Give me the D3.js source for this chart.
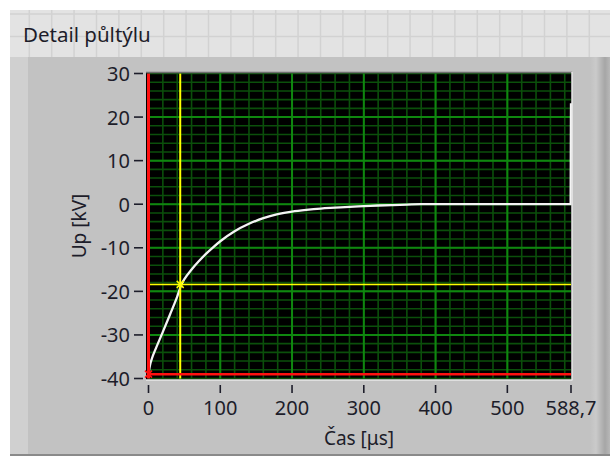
<!DOCTYPE html>
<html>
<head>
<meta charset="utf-8">
<script src="https://cdn.jsdelivr.net/npm/d3@7"></script>
<style>
	body { margin: 0; background: #fff; }
	text { font-family: "Noto Sans", "Open Sans", sans-serif; fill: #1d1d2a; }
</style>
</head>
<body>
<div id="chart"></div>
<script>
// curve: time [us] and voltage [kV]
let timeUs		= [0, 2, 5, 10, 20, 30, 40, 46, 50, 60, 70, 80, 90, 100, 120, 140, 160, 180, 200, 220, 240, 260, 280, 300, 320, 340, 360, 380, 588.2, 588.7];
let voltageKv	= [-39, -37, -35.3, -33.2, -29.3, -25.3, -21.2, -18.4, -17.2, -15, -13.1, -11.4, -9.9, -8.5, -6.2, -4.5, -3.2, -2.3, -1.7, -1.3, -1.0, -0.8, -0.6, -0.45, -0.3, -0.2, -0.1, 0, 0, 23.2];

let xTicks		= [0, 100, 200, 300, 400, 500, 588.7];
let yTicks		= [-40, -30, -20, -10, 0, 10, 20, 30];
let xMinor		= d3.range(0, 588.7, 20);
let yMinor		= d3.range(-40, 30.1, 2);

let cursorRed	= { t: 0, v: -39 };
let cursorYel	= { t: 44.2, v: -18.4 };

let title		= "Detail půltýlu";
let xTitle		= "Čas [μs]";
let yTitle		= "Up [kV]";

let canvasWidth		= 610;
let canvasHeight	= 461;

let x = d3.scaleLinear().domain([0, 588.7]).range([148.5, 571]);
let y = d3.scaleLinear().domain([-40, 30]).range([378.5, 73.5]);

let svg = d3.select("#chart").append("svg")
	.attr("width", canvasWidth)
	.attr("height", canvasHeight);

// page background with the light panel grid
svg.append('rect').attr('x', 10).attr('y', 10).attr('width', 600).attr('height', 47).attr('fill', '#e3e3e3');
let bgGrid = svg.append('g').attr('stroke', '#d2d2d2').attr('stroke-width', 1.5);
bgGrid.selectAll('line.v').data(d3.range(29.3, 610, 22.4)).enter().append('line')
	.attr('x1', (o) => o).attr('x2', (o) => o).attr('y1', 10).attr('y2', 57);
bgGrid.selectAll('line.h').data([14, 36.5]).enter().append('line')
	.attr('x1', 10).attr('x2', 610).attr('y1', (o) => o).attr('y2', (o) => o);

// graph panel
let defs = svg.append('defs');
let grad = defs.append('linearGradient').attr('id', 'edge').attr('x1', 0).attr('x2', 1).attr('y1', 0).attr('y2', 0);
grad.append('stop').attr('offset', '0%').attr('stop-color', '#c2c2c2');
grad.append('stop').attr('offset', '30%').attr('stop-color', '#cacaca');
grad.append('stop').attr('offset', '75%').attr('stop-color', '#a6a6a6');
grad.append('stop').attr('offset', '100%').attr('stop-color', '#b8b8b8');

svg.append('rect').attr('x', 10).attr('y', 57).attr('width', 600).attr('height', 398).attr('fill', '#c2c2c2');
svg.append('rect').attr('x', 10).attr('y', 57).attr('width', 18).attr('height', 398).attr('fill', '#d0d0d0');
svg.append('rect').attr('x', 590).attr('y', 57).attr('width', 20).attr('height', 398).attr('fill', 'url(#edge)');
svg.append('line').attr('x1', 10).attr('x2', 610).attr('y1', 455).attr('y2', 455).attr('stroke', '#8a8a8a').attr('stroke-width', 2);

svg.append('text')
	.attr('x', 23).attr('y', 42)
	.style('font-size', '20.5px')
	.text(title);

// plot area
let x0 = x.range()[0], x1 = x.range()[1], y0 = y.range()[1], y1 = y.range()[0];
svg.append('rect')
	.attr('x', x0 - 2.5).attr('y', y0 - 1.5)
	.attr('width', x1 - x0 + 3.5).attr('height', y1 - y0 + 3)
	.attr('fill', '#000');

let plot = svg.append('g');

plot.selectAll('line.xminor').data(xMinor).enter().append('line')
	.attr('x1', (o) => x(o)).attr('x2', (o) => x(o)).attr('y1', y0).attr('y2', y1)
	.attr('stroke', '#0b4f0b').attr('stroke-width', 1.6);
plot.selectAll('line.yminor').data(yMinor).enter().append('line')
	.attr('x1', x0).attr('x2', x1).attr('y1', (o) => y(o)).attr('y2', (o) => y(o))
	.attr('stroke', '#0b4f0b').attr('stroke-width', 1.6);
plot.selectAll('line.xmajor').data(xTicks.slice(1, -1)).enter().append('line')
	.attr('x1', (o) => x(o)).attr('x2', (o) => x(o)).attr('y1', y0).attr('y2', y1)
	.attr('stroke', '#0f870f').attr('stroke-width', 2);
plot.selectAll('line.ymajor').data(yTicks.slice(1, -1)).enter().append('line')
	.attr('x1', x0).attr('x2', x1).attr('y1', (o) => y(o)).attr('y2', (o) => y(o))
	.attr('stroke', '#0f870f').attr('stroke-width', 2);

// plot frame: dark top/left, light bottom/right
svg.append('line').attr('x1', x0 - 2.5).attr('x2', x1 + 1).attr('y1', y0 - 1).attr('y2', y0 - 1).attr('stroke', '#6e6e6e').attr('stroke-width', 1.5);
svg.append('line').attr('x1', x1 + 1).attr('x2', x1 + 1).attr('y1', y0 - 1.5).attr('y2', y1 + 1.5).attr('stroke', '#e8e8e8').attr('stroke-width', 1.5);
svg.append('line').attr('x1', x0 - 2.5).attr('x2', x1 + 1.5).attr('y1', y1 + 1.5).attr('y2', y1 + 1.5).attr('stroke', '#e8e8e8').attr('stroke-width', 1.5);

// signal
let line = d3.line()
	.x((o, i) => x(timeUs[i]))
	.y((o, i) => y(voltageKv[i]))
	.curve(d3.curveMonotoneX);
plot.append('path')
	.datum(timeUs)
	.attr('d', line)
	.attr('fill', 'none')
	.attr('stroke', '#f4f4f4')
	.attr('stroke-width', 2.3);

// cursors
function drawCursor(c, color, w) {
	plot.append('line').attr('x1', x(c.t)).attr('x2', x(c.t)).attr('y1', y0).attr('y2', y1)
		.attr('stroke', color).attr('stroke-width', w);
	plot.append('line').attr('x1', x0).attr('x2', x1).attr('y1', y(c.v)).attr('y2', y(c.v))
		.attr('stroke', color).attr('stroke-width', w - 0.5);
	let s = 3.5;
	plot.append('path')
		.attr('d', 'M' + (x(c.t) - s) + ',' + (y(c.v) - s) + 'L' + (x(c.t) + s) + ',' + (y(c.v) + s) +
			'M' + (x(c.t) - s) + ',' + (y(c.v) + s) + 'L' + (x(c.t) + s) + ',' + (y(c.v) - s))
		.attr('stroke', color).attr('stroke-width', 1.5);
}
drawCursor(cursorYel, '#ffff00', 2);
drawCursor(cursorRed, '#ff1010', 3);

// axes
let yAxis = svg.append('g');
yAxis.selectAll('line').data(yTicks).enter().append('line')
	.attr('x1', 134).attr('x2', 143).attr('y1', (o) => y(o)).attr('y2', (o) => y(o))
	.attr('stroke', '#1d1d2a').attr('stroke-width', 1.6);
yAxis.selectAll('text').data(yTicks).enter().append('text')
	.attr('x', 130).attr('y', (o) => y(o) + 7.5)
	.attr('text-anchor', 'end')
	.style('font-size', '20px')
	.text((o) => o);

let xAxis = svg.append('g');
xAxis.selectAll('line').data(xTicks).enter().append('line')
	.attr('x1', (o) => x(o)).attr('x2', (o) => x(o)).attr('y1', 385).attr('y2', 393)
	.attr('stroke', '#1d1d2a').attr('stroke-width', 1.6);
xAxis.selectAll('text').data(xTicks).enter().append('text')
	.attr('x', (o) => x(o)).attr('y', 415)
	.attr('text-anchor', 'middle')
	.style('font-size', '20px')
	.text((o) => String(o).replace('.', ','));

svg.append('text')
	.attr('x', 359).attr('y', 445)
	.attr('text-anchor', 'middle')
	.style('font-size', '19px')
	.text(xTitle);

svg.append('text')
	.attr('transform', 'translate(86,226) rotate(-90)')
	.attr('text-anchor', 'middle')
	.style('font-size', '19px')
	.text(yTitle);
</script>
</body>
</html>
